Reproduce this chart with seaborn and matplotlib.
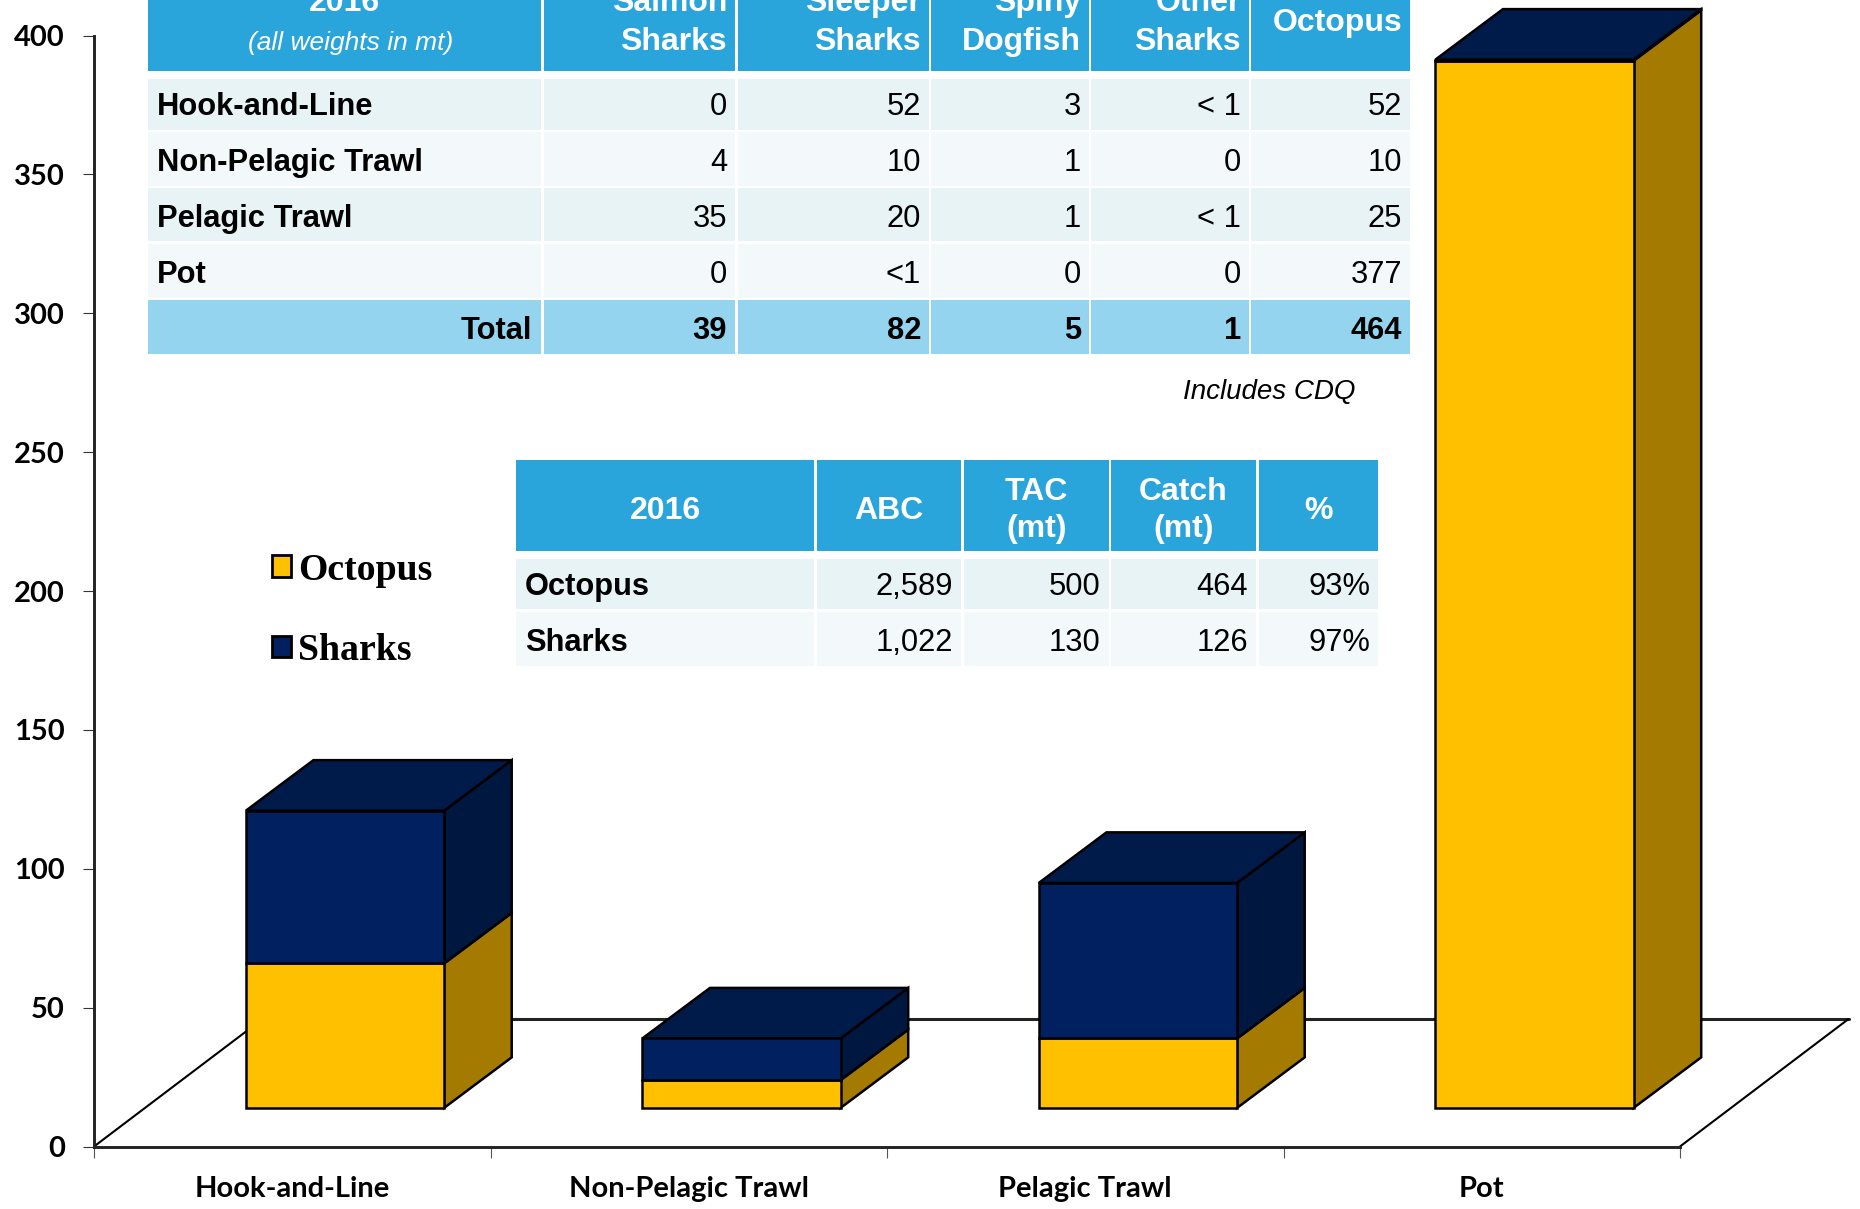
import numpy as np
import pandas as pd
import matplotlib
matplotlib.use("Agg")
import matplotlib.pyplot as plt
import seaborn as sns
from matplotlib.patches import Patch, Polygon, Rectangle

# Chart data
categories = ["Hook-and-Line", "Non-Pelagic Trawl", "Pelagic Trawl", "Pot"]
octopus = [52, 10, 25, 377]
sharks = [55, 15, 56, 0.4]
y_ticks = [0, 50, 100, 150, 200, 250, 300, 350, 400]

# Gear table
gear_columns = ["Salmon\nSharks", "Sleeper\nSharks", "Spiny\nDogfish", "Other\nSharks", "Octopus"]
gear_rows = ["Hook-and-Line", "Non-Pelagic Trawl", "Pelagic Trawl", "Pot"]
salmon_sharks = ["0", "4", "35", "0"]
sleeper_sharks = ["52", "10", "20", "<1"]
spiny_dogfish = ["3", "1", "1", "0"]
other_sharks = ["< 1", "0", "< 1", "0"]
octopus_catch = ["52", "10", "25", "377"]
gear_totals = ["39", "82", "5", "1", "464"]

# Quota table
quota_columns = ["ABC", "TAC\n(mt)", "Catch\n(mt)", "%"]
quota_rows = ["Octopus", "Sharks"]
abc = ["2,589", "1,022"]
tac = ["500", "130"]
catch = ["464", "126"]
percent = ["93%", "97%"]

# Colours
YELLOW = "#FFC000"
YELLOW_SIDE = "#A47B00"
NAVY = "#002060"
NAVY_SIDE = "#00173F"
NAVY_TOP = "#001A4A"
HEADER = "#29A5DB"
ROW_A = "#E8F3F5"
ROW_B = "#F3F8FB"
TOTAL = "#95D4EE"

# Fake 3D offsets, in data units
BASE = 13.9
BAR_SHIFT = 0.133
BAR_WIDTH = 0.5
BAR_DX, BAR_DY = 0.1705, 18.2
FLOOR_DX, FLOOR_DY = 0.425, 45.9
EDGE = 1.8

sns.set_theme(style="white")
plt.rcParams["font.family"] = ["Liberation Sans", "DejaVu Sans"]
plt.rcParams["text.color"] = "black"

df = pd.DataFrame({"gear": categories, "octopus": octopus, "sharks": sharks})

fig = plt.figure(figsize=(18.6, 12.09), dpi=100, facecolor="white")
ax = fig.add_axes([94 / 1860, 1 - 1146.5 / 1209, (1680 - 94) / 1860, (1146.5 - 35.5) / 1209])
ax.patch.set_alpha(0)

# Front faces
sns.barplot(data=df, x="gear", y="octopus", color=YELLOW, saturation=1, width=BAR_WIDTH, errorbar=None,
            edgecolor="black", linewidth=EDGE, bottom=BASE, ax=ax, zorder=4)
n_octopus = len(ax.patches)
sns.barplot(data=df, x="gear", y="sharks", color=NAVY, saturation=1, width=BAR_WIDTH, errorbar=None,
            edgecolor="black", linewidth=EDGE, bottom=BASE + df["octopus"].to_numpy(), ax=ax, zorder=4)

ax.set_xlim(-0.5, 3.5)
ax.set_ylim(0, 400)


def add_poly(points, color):
    ax.add_patch(Polygon(points, closed=True, facecolor=color, edgecolor="black", linewidth=EDGE,
                         joinstyle="miter", clip_on=False, zorder=3))


# Side and top faces built from the bars
for i, bar in enumerate(ax.patches[:]):
    bar.set_x(bar.get_x() + BAR_SHIFT)
    bar.set_clip_on(False)
    x1 = bar.get_x() + bar.get_width()
    y0, y1 = bar.get_y(), bar.get_y() + bar.get_height()
    add_poly([(x1, y0), (x1 + BAR_DX, y0 + BAR_DY), (x1 + BAR_DX, y1 + BAR_DY), (x1, y1)],
             YELLOW_SIDE if i < n_octopus else NAVY_SIDE)
    if i >= n_octopus:
        x0 = bar.get_x()
        add_poly([(x0, y1), (x0 + BAR_DX, y1 + BAR_DY), (x1 + BAR_DX, y1 + BAR_DY), (x1, y1)], NAVY_TOP)

# Floor of the 3D box
ax.plot([-0.5, -0.5 + FLOOR_DX], [0, FLOOR_DY], color="black", lw=1.5, clip_on=False, zorder=1)
ax.plot([-0.5 + FLOOR_DX, 3.5 + FLOOR_DX], [FLOOR_DY, FLOOR_DY], color="#222222", lw=2.2, clip_on=False, zorder=1)
ax.plot([3.5, 3.5 + FLOOR_DX], [0, FLOOR_DY], color="black", lw=1.5, clip_on=False, zorder=1)

# Axes
sns.despine(ax=ax)
for side in ["left", "bottom"]:
    ax.spines[side].set_linewidth(2.1)
    ax.spines[side].set_color("#222222")
ax.set_xlabel("")
ax.set_ylabel("")
ax.set_yticks(y_ticks)
ax.set_yticklabels([str(v) for v in y_ticks], family="Lato", fontweight="bold", fontsize=21, color="black")
ax.tick_params(axis="y", left=True, length=8, width=0.8, color="#333333", pad=13)
ax.set_xticks(range(4))
ax.set_xticklabels(categories, family="Lato", fontweight="bold", fontsize=21, color="black")
ax.tick_params(axis="x", which="major", bottom=False, length=0, pad=21.5)
ax.set_xticks([-0.5, 0.5, 1.5, 2.5, 3.5], minor=True)
ax.tick_params(axis="x", which="minor", bottom=True, length=8, width=0.8, color="#555555")

# Overlay in pixel coordinates for the tables
over = fig.add_axes([0, 0, 1, 1], zorder=5)
over.set_xlim(0, 1860)
over.set_ylim(1209, 0)
over.axis("off")


def cell(x0, x1, y0, y1, color):
    over.add_patch(Rectangle((x0, y0), x1 - x0, y1 - y0, facecolor=color, edgecolor="none"))


def put(x, y, s, ha="right", color="black", weight="normal", style="normal", size=22.2):
    over.text(x, y, s, ha=ha, va="baseline", color=color, fontweight=weight, fontstyle=style,
              fontsize=size, clip_on=False)


# Gear table
gear_x = [(148, 541), (544, 735), (738, 929), (931, 1089), (1091, 1249), (1251, 1410)]
gear_y = [(79, 129.5), (132, 186), (188, 241), (244, 298)]
gear_base = [115, 171, 227, 283]
gear_values = [salmon_sharks, sleeper_sharks, spiny_dogfish, other_sharks, octopus_catch]

for x0, x1 in gear_x:
    cell(x0, x1, -20, 71, HEADER)
    cell(x0, x1, 300, 353.5, TOTAL)
    for r, (y0, y1) in enumerate(gear_y):
        cell(x0, x1, y0, y1, ROW_A if r % 2 == 0 else ROW_B)

put(344, 11, "2016", ha="center", color="white", weight="bold", size=23)
put(351, 50, "(all weights in mt)", ha="center", color="white", style="italic", size=19)
for (x0, x1), label in zip(gear_x[1:], gear_columns):
    if "\n" in label:
        top, bottom = label.split("\n")
        put(x1 - 8, 11, top, color="white", weight="bold", size=23)
        put(x1 - 8, 50, bottom, color="white", weight="bold", size=23)
    else:
        put(x1 - 8, 31, label, color="white", weight="bold", size=23)

for r, name in enumerate(gear_rows):
    put(157, gear_base[r], name, ha="left", weight="bold")
    for (x0, x1), values in zip(gear_x[1:], gear_values):
        put(x1 - 8, gear_base[r], values[r])

put(532, 339, "Total", weight="bold")
for (x0, x1), value in zip(gear_x[1:], gear_totals):
    put(x1 - 8, 339, value, weight="bold")

put(1355, 399, "Includes CDQ", style="italic", size=20)

# Quota table
quota_x = [(516, 814), (817, 961), (964, 1108.5), (1111, 1256), (1258.5, 1378)]
quota_y = [(559, 609), (612, 666)]
quota_base = [595, 651]
quota_values = [abc, tac, catch, percent]

for x0, x1 in quota_x:
    cell(x0, x1, 460, 551, HEADER)
    for r, (y0, y1) in enumerate(quota_y):
        cell(x0, x1, y0, y1, ROW_A if r % 2 == 0 else ROW_B)

put(665, 519, "2016", ha="center", color="white", weight="bold", size=23)
for (x0, x1), label in zip(quota_x[1:], quota_columns):
    mid = (x0 + x1) / 2
    if "\n" in label:
        top, bottom = label.split("\n")
        put(mid, 500, top, ha="center", color="white", weight="bold", size=23)
        put(mid, 537, bottom, ha="center", color="white", weight="bold", size=23)
    else:
        put(mid, 519, label, ha="center", color="white", weight="bold", size=23)

for r, name in enumerate(quota_rows):
    put(525, quota_base[r], name, ha="left", weight="bold")
    for (x0, x1), values in zip(quota_x[1:], quota_values):
        put(x1 - 8, quota_base[r], values[r])

# Legend
handles = [Patch(facecolor=YELLOW, edgecolor="black", linewidth=2),
           Patch(facecolor=NAVY, edgecolor="black", linewidth=2)]
over.legend(handles, ["Octopus", "Sharks"], loc="upper left", bbox_to_anchor=(272 / 1860, 1 - 552.5 / 1209),
            frameon=False, labelcolor="black",
            prop={"family": "Liberation Serif", "weight": "bold", "size": 27.2},
            handlelength=0.5, handleheight=0.5, handletextpad=0.2, labelspacing=1.2,
            borderpad=0, borderaxespad=0)

fig.savefig("out.png", dpi=100, facecolor="white")
